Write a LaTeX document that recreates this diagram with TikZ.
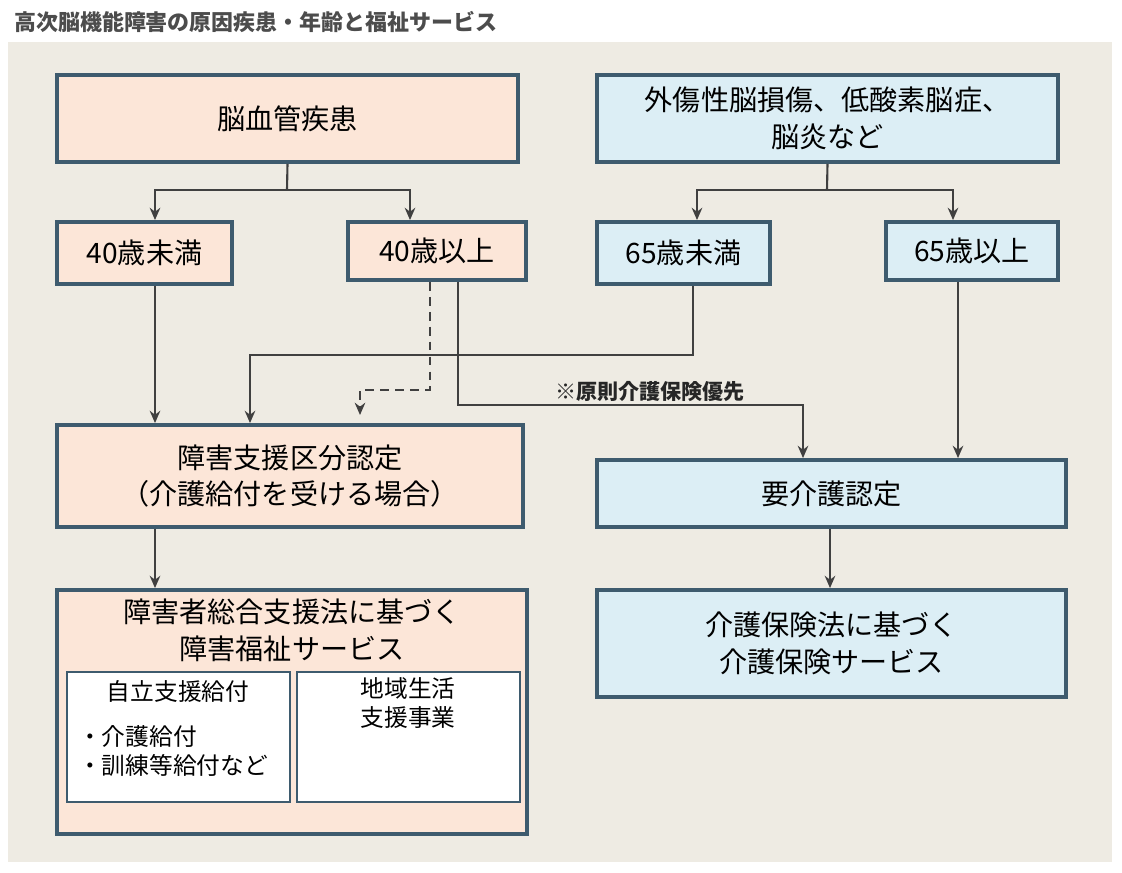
\documentclass[tikz,border=0pt]{standalone}
\usepackage{fontspec}
\setmainfont{Noto Sans CJK JP}
\usepackage{xcolor}
\usetikzlibrary{arrows.meta}
\definecolor{latar}{HTML}{EEEBE3}
\definecolor{garis}{HTML}{3E5B6E}
\definecolor{krem}{HTML}{FCE6D8}
\definecolor{biru}{HTML}{DCEEF5}
\definecolor{panah}{HTML}{404040}
\tikzset{
  kotak/.style={draw=garis, line width=2.2pt, align=center, inner sep=0pt, font=\fontsize{16}{21}\selectfont},
  kotakK/.style={kotak, fill=krem},
  kotakB/.style={kotak, fill=biru},
  dalam/.style={draw=garis, line width=1.2pt, fill=white},
  hubung/.style={panah, line width=1.2pt},
  tunjuk/.style={hubung, -{Stealth[length=7pt,width=6pt]}}
}
\begin{document}
\begin{tikzpicture}[x=0.02cm,y=-0.02cm]
        \useasboundingbox (0,0) rectangle (1122,872);
        %LATAR
        \fill[latar] (8,42) rectangle (1112,862);
        \node[anchor=west, text=black!70, font=\fontsize{12.5}{14}\selectfont\bfseries] (judul) at (8,22) {高次脳機能障害の原因疾患・年齢と福祉サービス};
        %KOTAK
        \node[kotakK, minimum width=9.22cm, minimum height=1.74cm] (stroke) at (287.5,118.5) {脳血管疾患};
        \node[kotakB, minimum width=9.22cm, minimum height=1.74cm] (trauma) at (827.5,118.5) {外傷性脳損傷、低酸素脳症、\\脳炎など};
        \node[kotakK, minimum width=3.5cm, minimum height=1.24cm] (u40) at (144.5,253) {40歳未満};
        \node[kotakK, minimum width=3.56cm, minimum height=1.16cm] (o40) at (437,251) {40歳以上};
        \node[kotakB, minimum width=3.46cm, minimum height=1.24cm] (u65) at (683.5,253) {65歳未満};
        \node[kotakB, minimum width=3.44cm, minimum height=1.16cm] (o65) at (972,251) {65歳以上};
        \node[kotakK, minimum width=9.32cm, minimum height=2.04cm] (kubun) at (290,476) {障害支援区分認定\\（介護給付を受ける場合）};
        \node[kotakB, minimum width=9.38cm, minimum height=1.34cm] (kaigo) at (831.5,493.5) {要介護認定};
        \node[kotakK, minimum width=9.4cm, minimum height=4.88cm] (fukushi) at (292,712) {};
        \node[kotakB, minimum width=9.38cm, minimum height=2.14cm] (hoken) at (831.5,643.5) {介護保険法に基づく\\介護保険サービス};
        \node[font=\fontsize{16}{21}\selectfont, align=center] (fukushiT) at (292,630) {障害者総合支援法に基づく\\障害福祉サービス};
        %DALAM
        \draw[dalam] (67,672) rectangle (290,802);
        \draw[dalam] (297,672) rectangle (520,802);
        \node[font=\fontsize{13.5}{16}\selectfont] (jiritsu) at (178,691) {自立支援給付};
        \node[font=\fontsize{13.5}{16}\selectfont, align=left, anchor=west] (kyufu) at (72,751) {・介護給付\\・訓練等給付など};
        \node[font=\fontsize{13.5}{16}\selectfont, align=center] (chiiki) at (408,703) {地域生活\\支援事業};
        %PANAH
        \coordinate (s1) at (287,190);
        \coordinate (t1) at (827,190);
        \draw[hubung] (stroke.south) -- (s1);
        \draw[tunjuk] (s1) -| (u40.north -| 155,0);
        \draw[tunjuk] (s1) -| (o40.north -| 410,0);
        \draw[hubung] (trauma.south) -- (t1);
        \draw[tunjuk] (t1) -| (u65.north -| 697,0);
        \draw[tunjuk] (t1) -| (o65.north -| 953,0);
        \draw[tunjuk] (u40.south -| 155,0) -- (kubun.north -| 155,0);
        \draw[tunjuk] (u65.south -| 693,0) |- (250,355) -- (kubun.north -| 250,0);
        \draw[tunjuk, line width=1.5pt, dash pattern=on 5pt off 3.5pt] (o40.south -| 430,0) |- (360,390) -- (360,415);
        \draw[tunjuk] (o40.south -| 458,0) |- (803,405) -- (kaigo.north -| 803,0);
        \draw[tunjuk] (o65.south -| 958,0) -- (kaigo.north -| 958,0);
        \draw[tunjuk] (kubun.south -| 155,0) -- (fukushi.north -| 155,0);
        \draw[tunjuk] (kaigo.south -| 830,0) -- (hoken.north -| 830,0);
        \node[font=\fontsize{12}{14}\selectfont\bfseries, text=black!85] (yusen) at (650,392) {※原則介護保険優先};
\end{tikzpicture}
\end{document}
